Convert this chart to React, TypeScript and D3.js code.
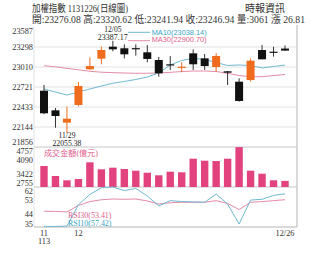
import React from "react";
import * as d3 from "d3";

const dates = ["11/27","11/28","11/29","12/02","12/03","12/04","12/05","12/06","12/09","12/10","12/11","12/12","12/13","12/16","12/17","12/18","12/19","12/20","12/23","12/24","12/25","12/26"];
const openV = [22668,22385,22207,22462,22977,23130,23303,23280,23282,23222,23111,23049,23000,23207,23135,23010,22948,22798,22822,23255,23231,23276.08];
const closeV = [22342,22303,22264,22736,23024,23255,23265,23193,23278,23126,22919,23045,23014,23049,23024,23169,22928,22520,23101,23121,23228,23246.94];
const highV = [22750,22419,22437,22794,23150,23303,23387.17,23337,23337,23327,23154,23169,23078,23265,23198,23208,22952,22847,23135,23327,23303,23320.62];
const lowV = [22330,22134,22055.38,22440,22970,23049,23236,23135,23173,23078,22870,22967,22934,22967,22967,22942,22750,22510,22800,23121,23159,23241.94];
const ma10 = [22693,22649,22606,22649,22693,22736,22775,22801,22830,22866,22923,23039,23104,23135,23118,23075,23032,23039,23032,22996,23017,23038.14];
const ma30 = [23029,23013,22991,22970,22948,22935,22928,22923,22919,22920,22923,22933,22945,22952,22952,22945,22919,22887,22870,22870,22887,22900.70];
const volume = [3806,3305,3090,3155,3991,3641,3721,3656,3571,3471,3341,3521,3491,4171,4071,4056,4171,4750,3571,3421,3090,3061];
const rsi10 = [35.4,35.4,35.6,50,57,61.5,62,59.6,61,56,49.2,52.8,52.2,51.9,51.7,57.3,50.5,37,53.2,53.7,56.3,57.42];
const rsi30 = [45.6,45.5,45.2,49.5,52.2,53.4,53.9,53.7,53.9,52.6,50.5,51.4,51.7,51.7,51.7,52.8,50.9,46.8,51.7,52.1,52.8,53.41];
const priceTicks = [23587,23298,23010,22721,22433,22144,21856];
const volTicks = [4757,4090,3422,2755];
const rsiTicks = [62,53,44,35];

const SERIF = "'Liberation Serif','Noto Sans CJK TC',serif";
const SANS = "'Liberation Sans','Noto Sans CJK TC',sans-serif";
const UP = "#ef6b1d";
const DOWN = "#111111";
const TEAL = "#6fb9d2";
const PINK = "#e58aa8";
const BAR = "#e2437f";
const GRID = "#e2e2e2";
const BORDER = "#c6c6c6";

export default function App() {
  const xL = 34, xR = 297;
  const pTop = 27, pBot = 147, vBot = 187, rBot = 227;
  const x = d3.scalePoint<string>().domain(dates).range([44, 285]);
  const yP = d3.scaleLinear().domain([21856, 23587]).range([pBot, pTop]);
  const yV = d3.scaleLinear().domain([2755, 4757]).range([vBot, pBot]);
  const yR = d3.scaleLinear().domain([35, 62]).range([rBot, vBot]);
  const clamp = (v: number, a: number, b: number) => Math.max(a, Math.min(b, v));
  const cw = 8, bw = 7.4;

  const lineP = (arr: number[]) =>
    d3.line<number>().x((_, i) => x(dates[i])!).y((d) => yP(d))(arr) || "";
  const lineR = (arr: number[]) =>
    d3.line<number>().x((_, i) => x(dates[i])!).y((d) => yR(d))(arr) || "";

  return (
    <svg width={330} height={254} style={{ position: "absolute", left: 0, top: 0, background: "#fff" }}>
      <rect x={0} y={0} width={330} height={254} fill="#fff" />
      {/* header */}
      <text x={32} y={12.3} fontFamily={SERIF} fontSize={10.5} fill="#333" textLength={96} lengthAdjust="spacingAndGlyphs">加權指數 1131226(日線圖)</text>
      <text x={245} y={12.3} fontFamily={SERIF} fontSize={10} fill="#333" textLength={40} lengthAdjust="spacingAndGlyphs">時報資訊</text>
      <text x={32} y={22.5} fontFamily={SERIF} fontSize={10} fill="#333" textLength={273} lengthAdjust="spacingAndGlyphs">開:23276.08 高:23320.62 低:23241.94 收:23246.94 量:3061 漲 26.81</text>

      {/* price grid */}
      {priceTicks.slice(1, -1).map((t) => (
        <line key={t} x1={xL} x2={xR} y1={yP(t)} y2={yP(t)} stroke={GRID} strokeWidth={1} />
      ))}
      {/* panel borders */}
      <line x1={xL} x2={xR} y1={pBot} y2={pBot} stroke={BORDER} />
      <line x1={xL} x2={xR} y1={vBot} y2={vBot} stroke={BORDER} />
      <line x1={xL} x2={xR} y1={rBot} y2={rBot} stroke="#b5b5b5" strokeWidth={1.2} />
      <line x1={xL} x2={xL} y1={pTop} y2={rBot} stroke={GRID} />
      <line x1={xR} x2={xR} y1={pTop - 2} y2={rBot} stroke={BORDER} strokeWidth={1.3} />

      {/* y labels */}
      {priceTicks.map((t) => (
        <text key={t} x={33} y={clamp(yP(t), pTop + 4, pBot - 4.5)} dy="0.35em" textAnchor="end" fontFamily={SERIF} fontSize={8.3} fill="#333">{t}</text>
      ))}
      {volTicks.map((t) => (
        <text key={t} x={33} y={clamp(yV(t), pBot + 4, vBot - 4)} dy="0.35em" textAnchor="end" fontFamily={SERIF} fontSize={8.3} fill="#333">{t}</text>
      ))}
      {rsiTicks.map((t) => (
        <text key={t} x={33} y={clamp(yR(t), vBot + 4.5, rBot - 3)} dy="0.35em" textAnchor="end" fontFamily={SERIF} fontSize={8.3} fill="#333">{t}</text>
      ))}

      {/* MA lines */}
      <path d={lineP(ma30)} fill="none" stroke={PINK} strokeWidth={1} />
      <path d={lineP(ma10)} fill="none" stroke={TEAL} strokeWidth={1} />

      {/* candles */}
      {dates.map((d, i) => {
        const up = closeV[i] > openV[i];
        const col = up ? UP : DOWN;
        const cx = x(d)!;
        const yT = yP(Math.max(openV[i], closeV[i]));
        const yB = yP(Math.min(openV[i], closeV[i]));
        return (
          <g key={d}>
            <line x1={cx} x2={cx} y1={yP(highV[i])} y2={yP(lowV[i])} stroke={up ? UP : "#333"} strokeWidth={1} />
            <rect x={cx - cw / 2} y={yT} width={cw} height={Math.max(1.2, yB - yT)} fill={col} />
          </g>
        );
      })}

      {/* annotations */}
      <text x={x("12/05")!} y={31.8} textAnchor="middle" fontFamily={SERIF} fontSize={7.6} fill="#222">12/05</text>
      <text x={x("12/05")!} y={40.2} textAnchor="middle" fontFamily={SERIF} fontSize={7.9} fill="#222" textLength={30} lengthAdjust="spacingAndGlyphs">{highV[6].toFixed(2)}</text>
      <text x={x("11/29")!} y={138} textAnchor="middle" fontFamily={SERIF} fontSize={7.6} fill="#222">11/29</text>
      <text x={x("11/29")!} y={146.4} textAnchor="middle" fontFamily={SERIF} fontSize={7.9} fill="#222" textLength={29} lengthAdjust="spacingAndGlyphs">{lowV[2].toFixed(2)}</text>

      {/* MA legend */}
      <line x1={128} x2={150} y1={32.3} y2={32.3} stroke={TEAL} />
      <line x1={128} x2={150} y1={40.7} y2={40.7} stroke={PINK} />
      <text x={151.7} y={34.6} fontFamily={SANS} fontSize={8} fill="#3aa3c6" textLength={55} lengthAdjust="spacingAndGlyphs">{`MA10(${ma10[21].toFixed(2)})`}</text>
      <text x={151.7} y={42.4} fontFamily={SANS} fontSize={8} fill="#e0608c" textLength={55} lengthAdjust="spacingAndGlyphs">{`MA30(${ma30[21].toFixed(2)})`}</text>

      {/* volume bars */}
      {dates.map((d, i) => (
        <rect key={d} x={x(d)! - bw / 2} y={yV(volume[i])} width={bw} height={vBot - yV(volume[i])} fill={BAR} />
      ))}
      <text x={44} y={156} fontFamily={SERIF} fontSize={8} fill="#e0608c" textLength={54} lengthAdjust="spacingAndGlyphs">成交金額(億元)</text>

      {/* RSI */}
      <path d={lineR(rsi30)} fill="none" stroke={PINK} strokeWidth={1} />
      <path d={lineR(rsi10)} fill="none" stroke={TEAL} strokeWidth={1} />
      <text x={68} y={217.8} fontFamily={SERIF} fontSize={8.3} fill="#e0608c" textLength={43.5} lengthAdjust="spacingAndGlyphs">{`RSI30(${rsi30[21].toFixed(2)})`}</text>
      <text x={68} y={226.2} fontFamily={SERIF} fontSize={8.3} fill="#3aa3c6" textLength={43.5} lengthAdjust="spacingAndGlyphs">{`RSI10(${rsi10[21].toFixed(2)})`}</text>

      {/* x labels */}
      <text x={x("11/27")!} y={235.5} textAnchor="middle" fontFamily={SERIF} fontSize={8.3} fill="#333">11</text>
      <text x={x("11/27")!} y={244} textAnchor="middle" fontFamily={SERIF} fontSize={8.3} fill="#333">113</text>
      <text x={x("12/02")!} y={235.5} textAnchor="middle" fontFamily={SERIF} fontSize={8.3} fill="#333">12</text>
      <text x={x("12/26")!} y={235.5} textAnchor="middle" fontFamily={SERIF} fontSize={8.3} fill="#333">12/26</text>
    </svg>
  );
}
